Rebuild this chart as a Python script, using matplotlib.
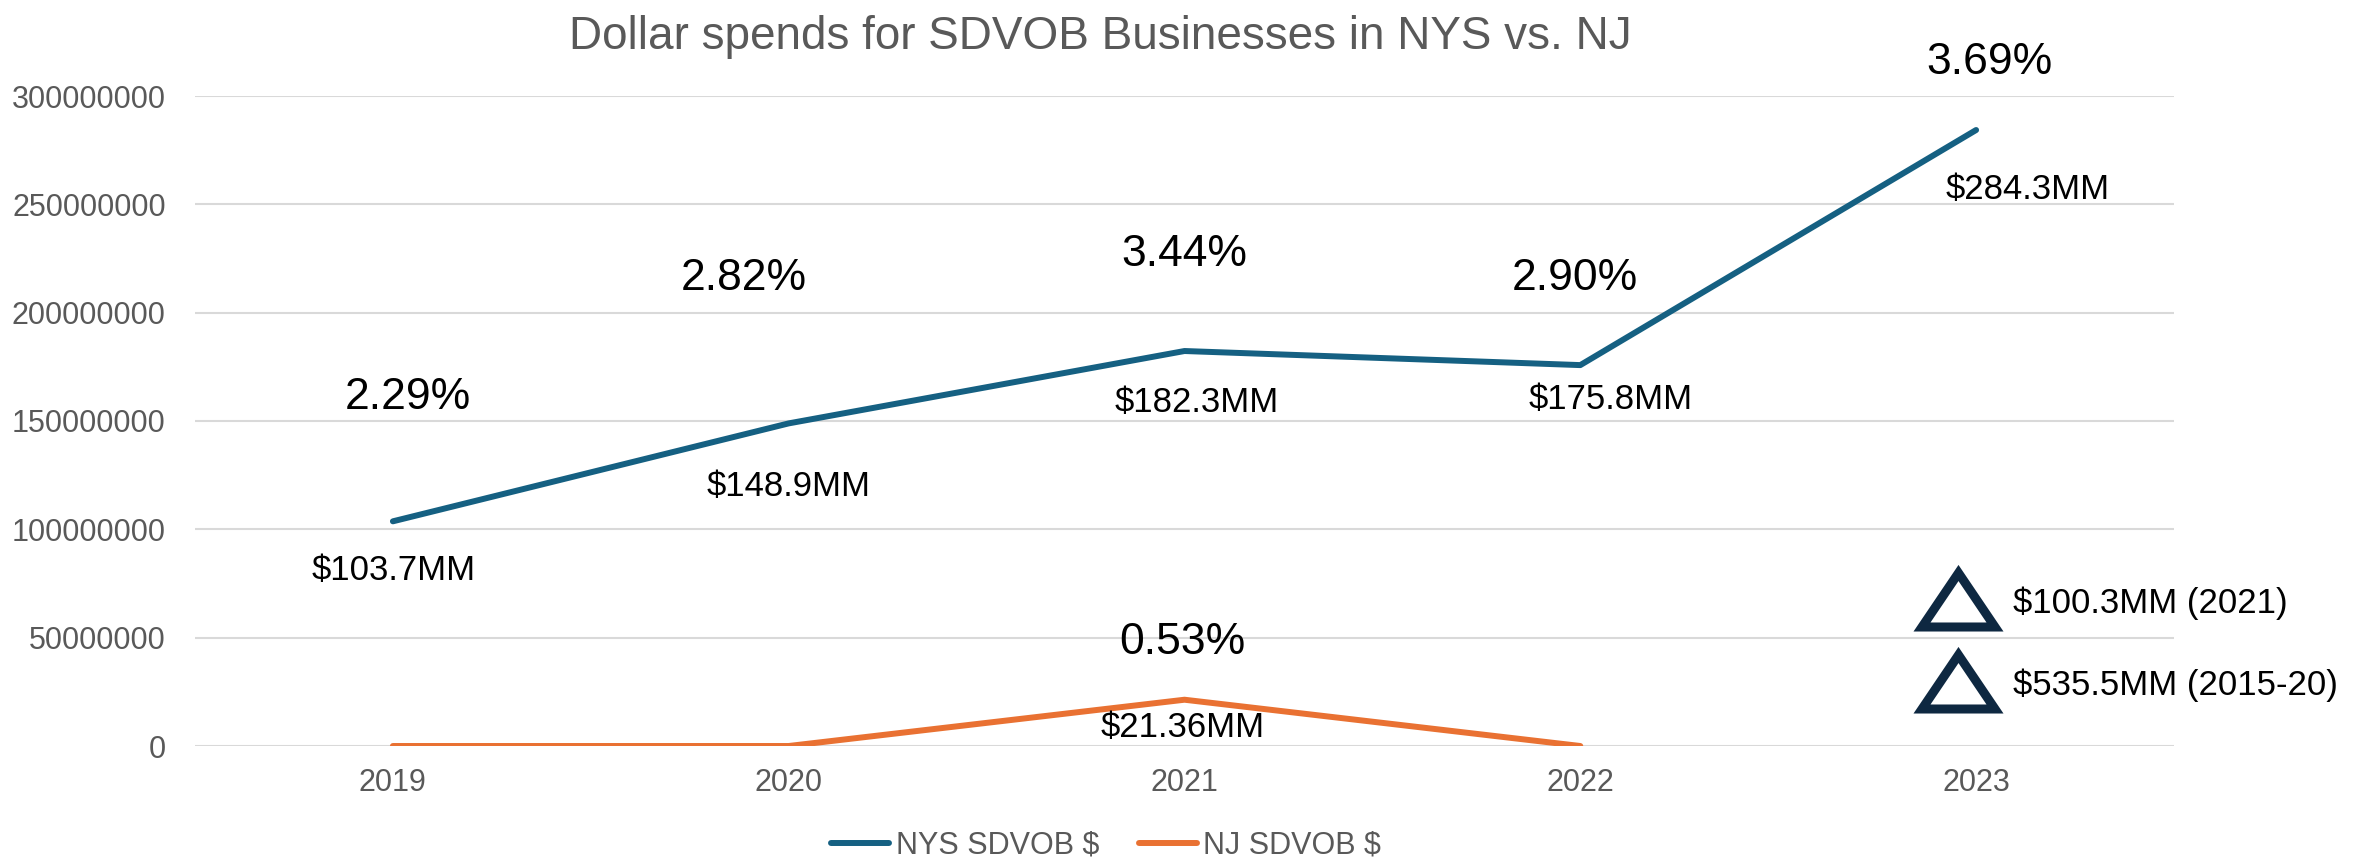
import numpy as np
import matplotlib
matplotlib.use('Agg')
import matplotlib.pyplot as plt
from matplotlib.patches import Polygon
from matplotlib.ticker import MultipleLocator, FuncFormatter

plt.rcParams['font.family'] = ['Liberation Sans', 'DejaVu Sans']

years = ['2019', '2020', '2021', '2022', '2023']
nys_spend = [103.7e6, 148.9e6, 182.3e6, 175.8e6, 284.3e6]
nj_spend = [0, 0, 21.36e6, 0, np.nan]

nys_pct = ['2.29%', '2.82%', '3.44%', '2.90%', '3.69%']
nys_amt = ['$103.7MM', '$148.9MM', '$182.3MM', '$175.8MM', '$284.3MM']
nj_pct = ['0.53%']
nj_amt = ['$21.36MM']
nj_label_idx = [2]

callouts = ['$100.3MM (2021)', '$535.5MM (2015-20)']

NYS_COLOR = '#156082'
NJ_COLOR = '#E97132'
GRAY = '#595959'
W, H = 2354, 860

# label offsets in pixels (dx, dy up)
pct_off = [(15, 124), (-45, 145), (0, 97), (-5, 87), (13, 68)]
amt_off = [(1, -49), (0, -63), (12, -51), (30, -34), (52, -59)]
nj_pct_off = [(-2, 57)]
nj_amt_off = [(-2, -28)]

fig = plt.figure(figsize=(W / 100, H / 100), dpi=100)
ax = fig.add_axes([195 / W, 114 / H, (2174 - 195) / W, (746 - 96) / H])

x = np.arange(len(years))
ax.plot(x, nys_spend, color=NYS_COLOR, lw=4.3, solid_capstyle='round',
        solid_joinstyle='round', label='NYS SDVOB $', zorder=3)
ax.plot(x, nj_spend, color=NJ_COLOR, lw=4.3, solid_capstyle='round',
        solid_joinstyle='round', label='NJ SDVOB $', zorder=3)

ax.set_xlim(-0.5, len(years) - 0.5)
ax.set_ylim(0, 300e6)
ax.set_xticks(x)
ax.set_xticklabels(years)
ax.yaxis.set_major_locator(MultipleLocator(50e6))
ax.yaxis.set_major_formatter(FuncFormatter(lambda v, p: '%d' % v))
ax.tick_params(axis='both', length=0, labelsize=22, labelcolor=GRAY)
ax.tick_params(axis='y', pad=21)
ax.tick_params(axis='x', pad=16)
ax.grid(axis='y', color='#D9D9D9', lw=1.5)
ax.set_axisbelow(True)
for s in ax.spines.values():
    s.set_visible(False)

for i in range(len(years)):
    ax.annotate(nys_pct[i], (x[i], nys_spend[i]), xytext=pct_off[i],
                textcoords='offset pixels', ha='center', va='center',
                fontsize=32, color='black')
    ax.annotate(nys_amt[i], (x[i], nys_spend[i]), xytext=amt_off[i],
                textcoords='offset pixels', ha='center', va='center',
                fontsize=25, color='black')

for k, i in enumerate(nj_label_idx):
    ax.annotate(nj_pct[k], (x[i], nj_spend[i]), xytext=nj_pct_off[k],
                textcoords='offset pixels', ha='center', va='center',
                fontsize=32, color='black')
    ax.annotate(nj_amt[k], (x[i], nj_spend[i]), xytext=nj_amt_off[k],
                textcoords='offset pixels', ha='center', va='center',
                fontsize=25, color='black')

fig.text(1100 / W, 1 - 37 / H, 'Dollar spends for SDVOB Businesses in NYS vs. NJ',
         ha='center', va='center', fontsize=33, color=GRAY)

# triangle callouts on the right
for top, txt in zip([566, 648], callouts):
    bot = top + 65
    tri = [(1922 / W, 1 - (bot - 4) / H), (1995 / W, 1 - (bot - 4) / H),
           (1958.5 / W, 1 - (top + 7) / H)]
    fig.patches.append(Polygon(tri, closed=True, transform=fig.transFigure,
                               facecolor='none', edgecolor='#0E2841', lw=6.5,
                               joinstyle='miter'))
    fig.text(2013 / W, 1 - (top + 37) / H, txt, ha='left', va='center',
             fontsize=25, color='black')

leg = fig.legend(loc='center', bbox_to_anchor=(1106 / W, 14 / H), ncol=2,
                 frameon=False, fontsize=22, handlelength=1.9,
                 handletextpad=0.2, columnspacing=1.3, borderpad=0)
for t in leg.get_texts():
    t.set_color(GRAY)

fig.savefig('out.png', dpi=100)
